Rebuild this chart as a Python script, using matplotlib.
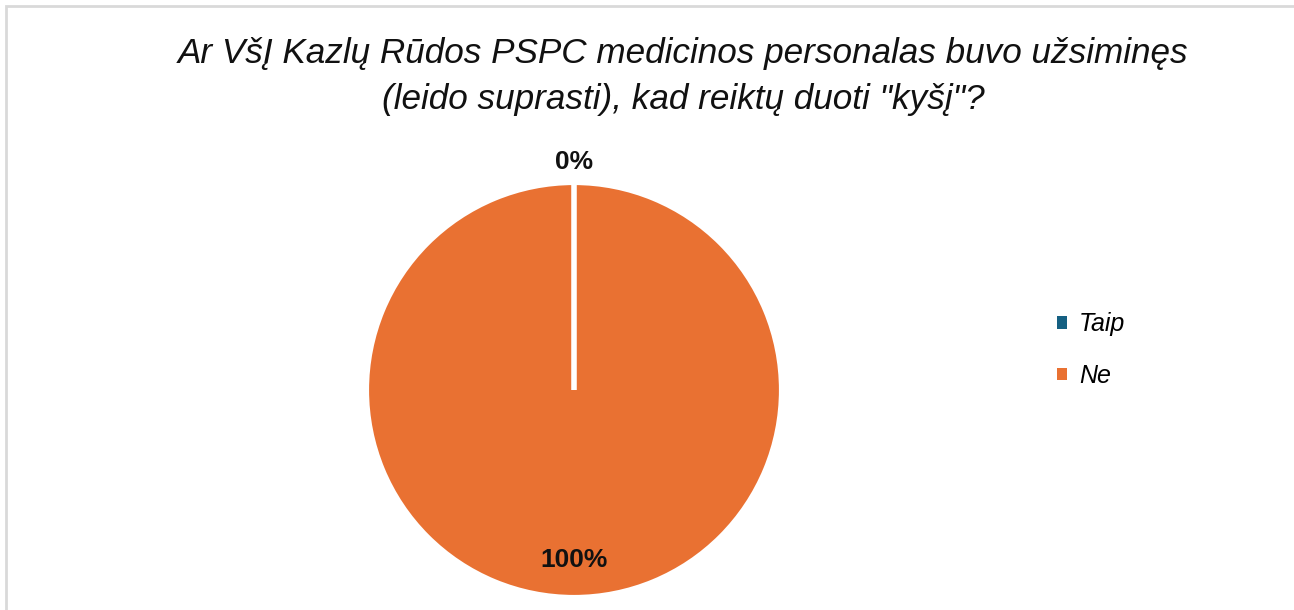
import matplotlib.pyplot as plt
from matplotlib.patches import Rectangle
import numpy as np

# duomenys
kategorijos = ["Taip", "Ne"]
reiksmes = [0, 100]
spalvos = ["#156082", "#E97132"]
pavadinimas = ['Ar VšĮ Kazlų Rūdos PSPC medicinos personalas buvo užsiminęs',
               '(leido suprasti), kad reiktų duoti "kyšį"?']

plt.rcParams['font.family'] = ['Liberation Sans', 'DejaVu Sans']

fig = plt.figure(figsize=(12.94, 6.10), dpi=100)

# remelis (matosi tik virsus ir kaire)
fig.patches.append(Rectangle((6 / 1294, -0.1), 1.2, (604 / 610) + 0.1, transform=fig.transFigure,
                             fill=False, edgecolor="#D9D9D9", linewidth=2))

fig.text(0.528, 1 - 53 / 610, pavadinimas[0], ha="center", va="center",
         fontsize=25.3, style="italic", color="#111111")
fig.text(0.528, 1 - 99 / 610, pavadinimas[1], ha="center", va="center",
         fontsize=25.3, style="italic", color="#111111")

ax = fig.add_axes([(574 - 207) / 1294, (610 - 597) / 610, 414 / 1294, 414 / 610])
wedges, _ = ax.pie(reiksmes, colors=spalvos, startangle=90, counterclock=False,
                   wedgeprops=dict(edgecolor="white", linewidth=3))
ax.set_xlim(-1, 1)
ax.set_ylim(-1, 1)

# balta skiriamoji linija (riba tarp dalių)
riba = np.deg2rad(wedges[-1].theta2)
ax.plot([0, np.cos(riba)], [0, np.sin(riba)], color="white", linewidth=4, solid_capstyle="butt")

suma = sum(reiksmes)
for w, v in zip(wedges, reiksmes):
    kampas = np.deg2rad((w.theta1 + w.theta2) / 2)
    r = 1.10 if v == 0 else 0.82
    ax.text(r * np.cos(kampas), r * np.sin(kampas), f"{v / suma * 100:.0f}%",
            ha="center", va="center", fontsize=19, fontweight="bold", color="#111111",
            clip_on=False)

leg = fig.legend(wedges, kategorijos, loc="center left", bbox_to_anchor=(1034 / 1294, 1 - 350 / 610),
                 frameon=False, prop=dict(size=18, style="italic"),
                 handlelength=0.4, handleheight=0.4, handletextpad=0.5, labelspacing=1.1)
for h in leg.legend_handles:
    h.set_edgecolor("none")

fig.savefig("out.png", dpi=100)
